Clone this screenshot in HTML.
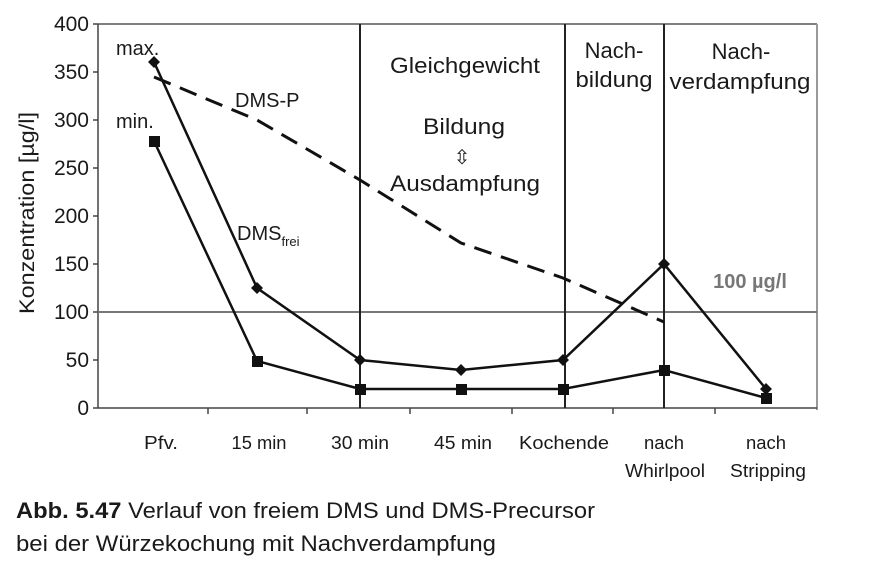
<!DOCTYPE html>
<html><head><meta charset="utf-8"><style>
body{margin:0;background:#fff;}
svg{display:block;}
text{font-family:"Liberation Sans",sans-serif;fill:#1a1a1a;}
</style></head><body>
<svg width="876" height="571" viewBox="0 0 876 571">
<rect width="876" height="571" fill="#fff"/>
<line x1="98" y1="24" x2="817" y2="24" stroke="#555" stroke-width="1.5"/>
<line x1="817" y1="24" x2="817" y2="410" stroke="#999" stroke-width="2"/>
<line x1="98" y1="24" x2="98" y2="408" stroke="#444" stroke-width="1.5"/>
<line x1="98" y1="408" x2="817" y2="408" stroke="#444" stroke-width="1.5"/>
<g stroke="#444" stroke-width="1.5">
<line x1="93" y1="24" x2="98" y2="24"/><line x1="93" y1="72" x2="98" y2="72"/>
<line x1="93" y1="120" x2="98" y2="120"/><line x1="93" y1="168" x2="98" y2="168"/>
<line x1="93" y1="216" x2="98" y2="216"/><line x1="93" y1="264" x2="98" y2="264"/>
<line x1="93" y1="312" x2="98" y2="312"/><line x1="93" y1="360" x2="98" y2="360"/>
<line x1="93" y1="408" x2="98" y2="408"/>
<line x1="208" y1="408" x2="208" y2="414"/><line x1="307" y1="408" x2="307" y2="414"/>
<line x1="410" y1="408" x2="410" y2="414"/><line x1="512" y1="408" x2="512" y2="414"/>
<line x1="613" y1="408" x2="613" y2="414"/><line x1="715" y1="408" x2="715" y2="414"/>
</g>
<g font-size="21" text-anchor="end">
<text x="89" y="31">400</text><text x="89" y="79">350</text><text x="89" y="127">300</text>
<text x="89" y="175">250</text><text x="89" y="223">200</text><text x="89" y="271">150</text>
<text x="89" y="319">100</text><text x="89" y="367">50</text><text x="89" y="415">0</text>
</g>
<text transform="translate(34,213) rotate(-90)" font-size="21" text-anchor="middle" textLength="202" lengthAdjust="spacingAndGlyphs">Konzentration [µg/l]</text>
<line x1="98" y1="312" x2="817" y2="312" stroke="#777" stroke-width="2"/>
<g stroke="#222" stroke-width="2">
<line x1="360" y1="24" x2="360" y2="408"/>
<line x1="565" y1="24" x2="565" y2="408"/>
<line x1="664" y1="24" x2="664" y2="408"/>
</g>
<polyline points="154,77 257,120 360,180 461,243 563,278 664,322" fill="none" stroke="#111" stroke-width="3" stroke-dasharray="18,10"/>
<polyline points="154,62 257,288 360,360 461,370 563,360 664,264 766,389" fill="none" stroke="#111" stroke-width="2.5"/>
<g fill="#111">
<path d="M154,56 l6,6 -6,6 -6,-6z"/><path d="M257,282 l6,6 -6,6 -6,-6z"/>
<path d="M360,354 l6,6 -6,6 -6,-6z"/><path d="M461,364 l6,6 -6,6 -6,-6z"/>
<path d="M563,354 l6,6 -6,6 -6,-6z"/><path d="M664,258 l6,6 -6,6 -6,-6z"/>
<path d="M766,383 l6,6 -6,6 -6,-6z"/>
</g>
<polyline points="154,141 257,361 360,389 461,389 563,389 664,370 766,398" fill="none" stroke="#111" stroke-width="2.5"/>
<g fill="#111">
<rect x="149" y="136" width="11" height="11"/><rect x="252" y="356" width="11" height="11"/>
<rect x="355" y="384" width="11" height="11"/><rect x="456" y="384" width="11" height="11"/>
<rect x="558" y="384" width="11" height="11"/><rect x="659" y="365" width="11" height="11"/>
<rect x="761" y="393" width="11" height="11"/>
</g>
<g font-size="20">
<text x="116" y="55">max.</text>
<text x="116" y="128">min.</text>
<text x="235" y="107">DMS-P</text>
<text x="237" y="240">DMS<tspan font-size="13" dy="6">frei</tspan></text>
</g>
<g font-size="22" text-anchor="middle">
<text x="465" y="73" textLength="150" lengthAdjust="spacingAndGlyphs">Gleichgewicht</text>
<text x="464" y="134" textLength="82" lengthAdjust="spacingAndGlyphs">Bildung</text>
<text x="462" y="164" font-size="20">⇳</text>
<text x="465" y="191" textLength="150" lengthAdjust="spacingAndGlyphs">Ausdampfung</text>
<text x="614" y="58">Nach-</text>
<text x="614" y="87" textLength="77" lengthAdjust="spacingAndGlyphs">bildung</text>
<text x="741" y="59">Nach-</text>
<text x="740" y="89" textLength="141" lengthAdjust="spacingAndGlyphs">verdampfung</text>
<text x="750" y="288" font-weight="bold" style="fill:#777" font-size="20">100 µg/l</text>
</g>
<g font-size="18" text-anchor="middle">
<text x="161" y="449" textLength="34" lengthAdjust="spacingAndGlyphs">Pfv.</text>
<text x="259" y="449" textLength="55" lengthAdjust="spacingAndGlyphs">15 min</text>
<text x="360" y="449" textLength="58" lengthAdjust="spacingAndGlyphs">30 min</text>
<text x="463" y="449" textLength="58" lengthAdjust="spacingAndGlyphs">45 min</text>
<text x="564" y="449" textLength="90" lengthAdjust="spacingAndGlyphs">Kochende</text>
<text x="664" y="449" textLength="40" lengthAdjust="spacingAndGlyphs">nach</text>
<text x="665" y="477" textLength="80" lengthAdjust="spacingAndGlyphs">Whirlpool</text>
<text x="766" y="449" textLength="40" lengthAdjust="spacingAndGlyphs">nach</text>
<text x="768" y="477" textLength="76" lengthAdjust="spacingAndGlyphs">Stripping</text>
</g>
<text x="16" y="518" font-size="22" textLength="579" lengthAdjust="spacingAndGlyphs"><tspan font-weight="bold">Abb. 5.47</tspan> Verlauf von freiem DMS und DMS-Precursor</text>
<text x="16" y="551" font-size="22" textLength="480" lengthAdjust="spacingAndGlyphs">bei der Würzekochung mit Nachverdampfung</text>
</svg>
</body></html>
